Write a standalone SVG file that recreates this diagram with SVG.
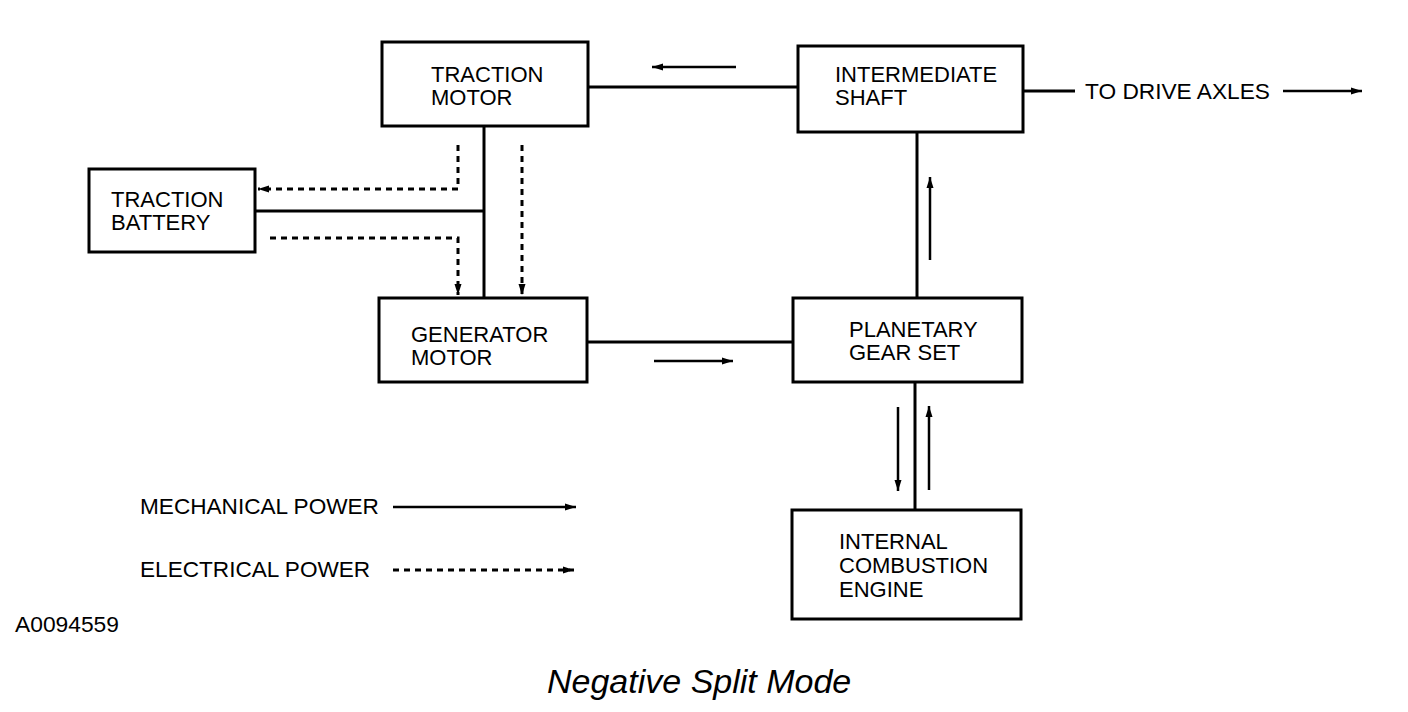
<svg xmlns="http://www.w3.org/2000/svg" width="1408" height="712" viewBox="0 0 1408 712">
<style>
.box{fill:#fff;stroke:#000;stroke-width:3}
.lbl{font-family:"Liberation Sans",Arial,sans-serif;font-size:22px;fill:#000}
.ln{stroke:#000;stroke-width:3;fill:none}
.ar{stroke:#000;stroke-width:2.5;fill:none;marker-end:url(#ah)}
.dt{stroke:#000;stroke-width:3;fill:none;stroke-dasharray:6 5;marker-end:url(#ah)}
</style>
<defs>
<marker id="ah" markerUnits="userSpaceOnUse" markerWidth="12" markerHeight="10" refX="11" refY="5" orient="auto">
<path d="M0,1.5 L11,5 L0,8.5 Z" fill="#000"/>
</marker>
</defs>
<rect width="1408" height="712" fill="#fff"/>
<g id="connectors">
<line class="ln" x1="588" y1="87" x2="798" y2="87"/>
<line class="ar" x1="736" y1="67" x2="652" y2="67"/>
<line class="ln" x1="587" y1="342" x2="793" y2="342"/>
<line class="ar" x1="654" y1="361" x2="733" y2="361"/>
<line class="ln" x1="484" y1="126" x2="484" y2="298"/>
<line class="ln" x1="255" y1="211" x2="484" y2="211"/>
<path class="dt" d="M458,145 L458,189 L258,189"/>
<path class="dt" d="M270,238 L458,238 L458,295"/>
<line class="dt" x1="522" y1="145" x2="522" y2="295"/>
<line class="ln" x1="917" y1="132" x2="917" y2="298"/>
<line class="ar" x1="930" y1="260" x2="930" y2="177"/>
<line class="ln" x1="915" y1="382" x2="915" y2="510"/>
<line class="ar" x1="898" y1="407" x2="898" y2="491"/>
<line class="ar" x1="929" y1="490" x2="929" y2="406"/>
<line class="ln" x1="1023" y1="91" x2="1075" y2="91"/>
<line class="ar" x1="1283" y1="91" x2="1362" y2="91"/>
<line class="ar" x1="393" y1="507" x2="576" y2="507"/>
<line class="dt" x1="393" y1="570" x2="574" y2="570"/>
</g>
<g id="traction-motor">
<rect class="box" x="382" y="42" width="206" height="84"/>
<text class="lbl" x="431" y="82">TRACTION</text>
<text class="lbl" x="431" y="105">MOTOR</text>
</g>
<g id="intermediate-shaft">
<rect class="box" x="798" y="46" width="225" height="86"/>
<text class="lbl" x="835" y="82">INTERMEDIATE</text>
<text class="lbl" x="835" y="105">SHAFT</text>
</g>
<g id="traction-battery">
<rect class="box" x="89" y="169" width="166" height="83"/>
<text class="lbl" x="111" y="207">TRACTION</text>
<text class="lbl" x="111" y="230">BATTERY</text>
</g>
<g id="generator-motor">
<rect class="box" x="379" y="298" width="208" height="84"/>
<text class="lbl" x="411" y="342">GENERATOR</text>
<text class="lbl" x="411" y="365">MOTOR</text>
</g>
<g id="planetary-gear-set">
<rect class="box" x="793" y="298" width="229" height="84"/>
<text class="lbl" x="849" y="337">PLANETARY</text>
<text class="lbl" x="849" y="360">GEAR SET</text>
</g>
<g id="internal-combustion-engine">
<rect class="box" x="792" y="510" width="229" height="109"/>
<text class="lbl" x="839" y="549">INTERNAL</text>
<text class="lbl" x="839" y="573">COMBUSTION</text>
<text class="lbl" x="839" y="597">ENGINE</text>
</g>
<g id="labels">
<text class="lbl" x="1085" y="99" style="font-size:22.7px">TO DRIVE AXLES</text>
<text class="lbl" x="140" y="514" style="font-size:22.6px">MECHANICAL POWER</text>
<text class="lbl" x="140" y="577" style="font-size:22.6px">ELECTRICAL POWER</text>
<text class="lbl" x="15" y="632" style="font-size:22.8px">A0094559</text>
<text class="lbl" x="547" y="693" style="font-size:34px;font-style:italic">Negative Split Mode</text>
</g>
</svg>
